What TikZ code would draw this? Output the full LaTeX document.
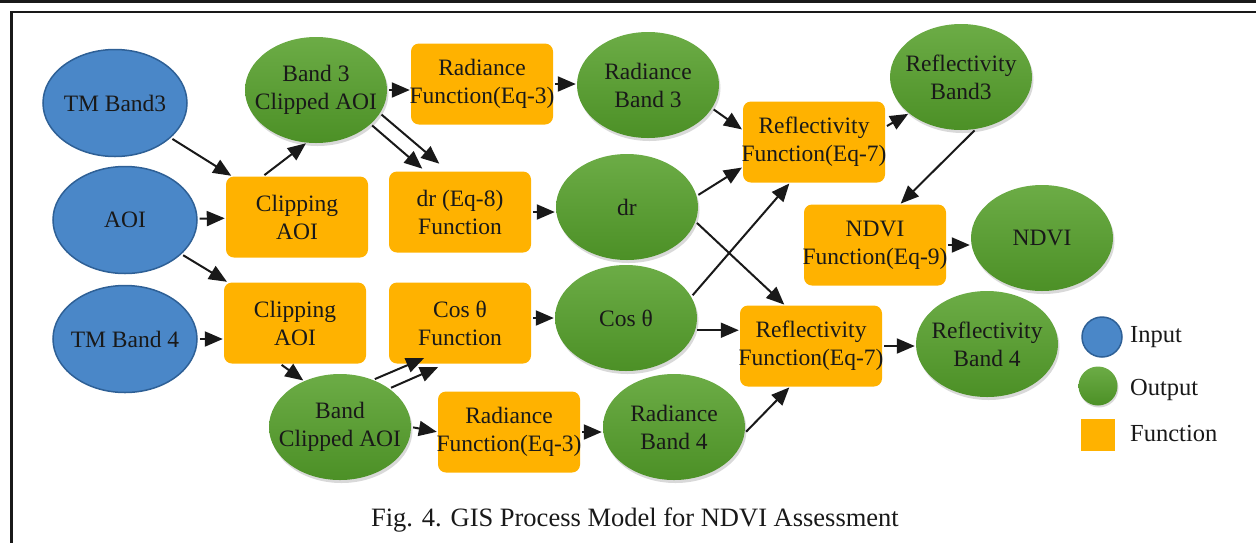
\documentclass[tikz,border=0pt]{standalone}
\usepackage{fontspec}
\setmainfont{Liberation Serif}
\usetikzlibrary{shapes.geometric,arrows.meta,calc,shadows}
\definecolor{inblue}{RGB}{74,135,200}
\definecolor{inblueD}{RGB}{46,96,150}
\definecolor{gtop}{RGB}{108,172,70}
\definecolor{gbot}{RGB}{76,144,38}
\definecolor{fnorange}{RGB}{255,178,0}
\definecolor{ink}{RGB}{25,25,25}
\begin{document}
\begin{tikzpicture}[x=1pt,y=-1pt,
  lbl/.style={font=\fontsize{23.5}{28}\selectfont, text=ink, align=center, inner sep=0pt},
  inp/.style={lbl, ellipse, fill=inblue, draw=inblueD, line width=1.5pt, inner xsep=-30pt, inner ysep=-10pt, minimum width=144pt, minimum height=107pt},
  outp/.style={lbl, ellipse, top color=gtop, bottom color=gbot, inner xsep=-30pt, inner ysep=-10pt, minimum width=142pt, minimum height=106pt, drop shadow={shadow xshift=1.5pt, shadow yshift=-3pt, opacity=0.3}},
  fn/.style={lbl, rectangle, rounded corners=8pt, fill=fnorange, inner xsep=-6pt, minimum width=142pt, minimum height=81pt},
  legtxt/.style={font=\fontsize{24.5}{28}\selectfont, text=ink, inner sep=0pt, anchor=west},
  arr/.style={-{Triangle[length=18pt,width=15pt]}, line width=2pt, draw=ink, shorten <=2pt, shorten >=1pt}]
\useasboundingbox (0,0) rectangle (1256,542);
% frame
\draw[line width=2.6pt, ink] (0,1.3) -- (1256,1.3);
\draw[line width=2.4pt, ink] (11.3,545) -- (11.3,12) -- (1260,12);
% inputs
\node[inp] (tm3) at (115,103) {TM Band3};
\node[inp] (aoi) at (125,220) {AOI};
\node[inp] (tm4) at (125,339) {TM Band 4};
% functions
\node[fn] (clip1) at (297,217) {Clipping\\AOI};
\node[fn] (clip2) at (295,323) {Clipping\\AOI};
\node[fn] (rad1) at (482,84) {Radiance\\Function(Eq-3)};
\node[fn] (drf) at (460,212) {dr (Eq-8)\\Function};
\node[fn] (cosf) at (460,323) {Cos θ\\Function};
\node[fn] (rad2) at (509,432) {Radiance\\Function(Eq-3)};
\node[fn] (ref1) at (814,142) {Reflectivity\\Function(Eq-7)};
\node[fn] (ref2) at (811,346) {Reflectivity\\Function(Eq-7)};
\node[fn] (ndvif) at (875,245) {NDVI\\Function(Eq-9)};
% outputs
\node[outp] (b3c) at (316,90) {Band 3\\Clipped AOI};
\node[outp] (bca) at (340,427) {Band\\Clipped AOI};
\node[outp] (rb3) at (648,85) {Radiance\\Band 3};
\node[outp] (dr) at (627,207) {dr};
\node[outp] (cos) at (626,318) {Cos θ};
\node[outp] (rb4) at (674,427) {Radiance\\Band 4};
\node[outp] (rfb3) at (961,77) {Reflectivity\\Band3};
\node[outp] (ndvi) at (1042,238) {NDVI};
\node[outp] (rfb4) at (987,344) {Reflectivity\\Band 4};
% legend
\node[circle, fill=inblue, draw=inblueD, line width=1.5pt, minimum size=40pt, inner sep=0pt] (lin) at (1102,337) {};
\node[circle, top color=gtop, bottom color=gbot, minimum size=39pt, inner sep=0pt, drop shadow={shadow xshift=1pt, shadow yshift=-2pt, opacity=0.3}] (lout) at (1098,386) {};
\node[fill=fnorange, minimum width=34pt, minimum height=32pt, inner sep=0pt] (lfn) at (1098,435) {};
\node[legtxt] (tin) at (1130,337) {Input};
\node[legtxt] (tout) at (1130,390) {Output};
\node[legtxt] (tfn) at (1130,433) {Function};
% caption
\node[font=\fontsize{26.5}{30}\selectfont, text=ink, inner sep=0pt] (cap) at (635,520) {Fig. 4. GIS Process Model for NDVI Assessment};
% connectors
\draw[arr] (tm3) -- (clip1);
\draw[arr] (aoi) -- (clip1);
\draw[arr] (aoi) -- (clip2);
\draw[arr] (tm4.east) -- (tm4.east -| clip2.west);
\draw[arr] (clip1.130) -- (b3c.-100);
\draw[arr] (b3c.east) -- (b3c.east -| rad1.west);
\draw[arr] (b3c.-32) -- ($(drf.north)+(-37,-2)$);
\draw[arr] (b3c.-20) -- ($(drf.north)+(-20,-7)$);
\draw[arr] (rad1.east) -- (rad1.east -| rb3.west);
\draw[arr] (rb3.-20) -- ($(ref1.west)+(0,-12)$);
\draw[arr] (drf.east) -- (drf.east -| dr.west);
\draw[arr] (dr.9) -- ($(ref1.west)+(0,25)$);
\draw[arr] (dr.-12) -- ($(ref2.north)+(-26,0)$);
\draw[arr] (cos.18) -- ($(ref1.south)+(-24,0)$);
\draw[arr] (cosf.east |- cos.west) -- (cos.west);
\draw[arr] (cos.-10) -- (cos.-10 -| ref2.west);
\draw[arr] (bca.55) -- ($(cosf.south)+(-35,-6)$);
\draw[arr] (bca.38) -- ($(cosf.south)+(-21,3)$);
\draw[arr] (bca.east) -- (rad2.west);
\draw[arr] (rad2.east) -- (rad2.east -| rb4.west);
\draw[arr] (rb4.-5) -- ($(ref2.south)+(-21,0)$);
\draw[arr] ($(ref1.east)+(0,-15)$) -- (rfb3.-145);
\draw[arr] (rfb3.-74) -- ($(ndvif.north)+(25,0)$);
\draw[arr] (ndvif.east) -- (ndvif.east -| ndvi.west);
\draw[arr] (ref2.east) -- (ref2.east -| rfb4.west);
\draw[arr] ($(clip2.south)+(-15,0)$) -- (bca.128);
\end{tikzpicture}
\end{document}
